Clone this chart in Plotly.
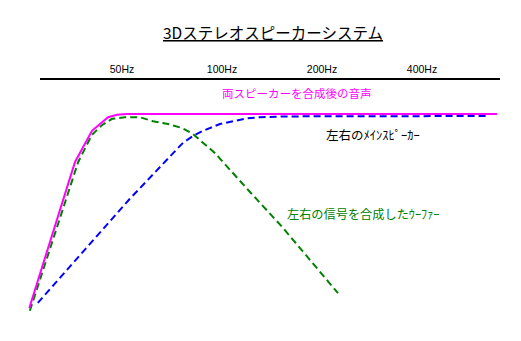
import math
import plotly.graph_objects as go

# ---- data (frequency in Hz, level in dB) ----
tick_vals = [50, 100, 200, 400]
tick_text = ["50Hz", "100Hz", "200Hz", "400Hz"]

combined_f = [26.3, 36.1, 40.6, 45.4, 48.3, 51.7, 672.7]
combined_db = [-24.25, -6.0, -2.1, -0.4, -0.1, 0.0, 0.0]

main_f = [27.9, 52.8, 76.3, 81.8, 87.7, 98.6, 107.9, 118.9, 130.1, 156.9, 627.6]
main_db = [-23.6, -10.6, -3.6, -2.75, -2.1, -1.25, -0.9, -0.55, -0.4, -0.3, -0.25]

woofer_f = [26.4, 36.9, 40.6, 43.5, 46.7, 51.0, 56.6, 62.0, 68.8, 75.8, 81.8,
            87.7, 95.3, 121.4, 130.1, 151.6, 223.5]
woofer_db = [-24.6, -6.0, -2.6, -1.4, -0.6, -0.4, -0.4, -0.9, -1.25, -1.75, -2.5,
             -3.6, -4.9, -9.75, -11.1, -14.1, -22.4]

title_text = "3Dステレオスピーカーシステム"
label_combined = "両スピーカーを合成後の音声"
label_main = "左右のﾒｲﾝｽﾋﾟｰｶｰ"
label_woofer = "左右の信号を合成したｳｰﾌｧｰ"

# ---- layout geometry ----
W, H = 521, 341
AXIS_PX = 79  # top axis line position (px from top)


def f_at(px):
    return 50 * 2 ** ((px - 122) / 100)


def lvl_at(py):
    return (114 - py) / 8


def px(x):
    return x / W


def py(y):
    return 1 - y / H


JP = "Noto Sans CJK JP"

fig = go.Figure()
fig.add_trace(go.Scatter(x=woofer_f, y=woofer_db, mode="lines",
                         line=dict(color="#008000", width=2, dash="7px,4px")))
fig.add_trace(go.Scatter(x=main_f, y=main_db, mode="lines",
                         line=dict(color="#0000FF", width=2, dash="7px,4px")))
fig.add_trace(go.Scatter(x=combined_f, y=combined_db, mode="lines",
                         line=dict(color="#FF00FF", width=2)))

fig.add_shape(type="line", xref="x", yref="paper",
              x0=f_at(40), x1=f_at(500), y0=py(AXIS_PX), y1=py(AXIS_PX),
              line=dict(color="black", width=2))

annos = [
    dict(text="<u>" + title_text + "</u>", x=px(273), y=py(32), color="black", size=15.5),
    dict(text=label_combined, x=px(297), y=py(93), color="#FF00FF", size=11.5),
    dict(text=label_main, x=px(373), y=py(134), color="black", size=12.5),
    dict(text=label_woofer, x=px(363), y=py(214), color="#008000", size=12.2),
]
for a in annos:
    fig.add_annotation(text=a["text"], x=a["x"], y=a["y"], xref="paper", yref="paper",
                       xanchor="center", yanchor="middle", showarrow=False,
                       font=dict(family=JP, size=a["size"], color=a["color"]))

fig.update_layout(
    width=W, height=H,
    margin=dict(l=0, r=0, t=0, b=0),
    paper_bgcolor="white", plot_bgcolor="white",
    showlegend=False,
    xaxis=dict(type="log", range=[math.log10(f_at(0)), math.log10(f_at(W))],
               side="top", tickvals=tick_vals, ticktext=tick_text,
               tickfont=dict(family="Liberation Sans", size=10.5, color="black"),
               showgrid=False, zeroline=False, showline=False, ticks="",
               ticklabelstandoff=3, fixedrange=True),
    yaxis=dict(domain=[0, (H - AXIS_PX) / H], range=[lvl_at(H), lvl_at(AXIS_PX)],
               visible=False, fixedrange=True),
)

fig.write_html("out.html")
